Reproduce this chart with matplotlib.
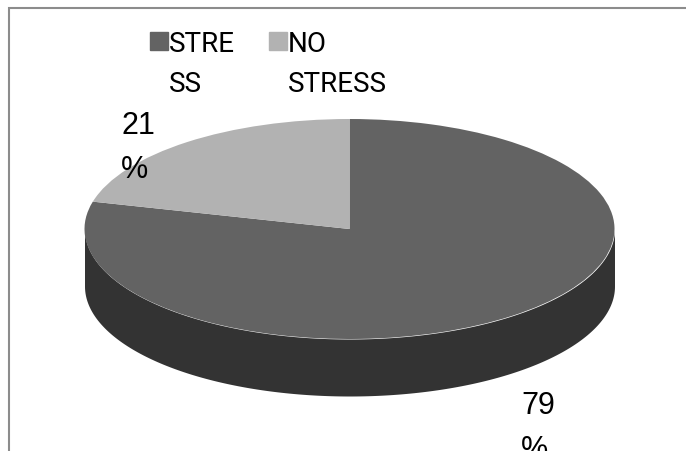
import numpy as np
import matplotlib.pyplot as plt
from matplotlib.patches import Rectangle

# data
categories = ["STRESS", "NO STRESS"]
legend_labels = ["STRE\nSS", "NO\nSTRESS"]
shares = [79, 21]
pct_labels = ["79\n%", "21\n%"]
top_colors = ["#636363", "#b2b2b2"]
side_color = "#333333"

W, H = 686, 452
cx, cy = 349.5, 230      # pie centre in pixels (from top)
rx, ry = 265, 110        # ellipse semi axes in pixels
depth = 57               # thickness of the 3d side in pixels

fig = plt.figure(figsize=(W / 100, H / 100), dpi=100)
ax = fig.add_axes([0, 0, 1, 1])

# radius 1 pie turns into the flattened ellipse through the limits
yb = H - cy
ax.pie(shares, colors=top_colors, startangle=90, counterclock=False,
       radius=1, wedgeprops=dict(linewidth=0, zorder=3))
ax.set_aspect("auto")
ax.set_xlim(-cx / rx, (W - cx) / rx)
ax.set_ylim(-yb / ry, (H - yb) / ry)
ax.axis("off")

# front wall of the cylinder
t = np.linspace(np.pi, 2 * np.pi, 200)
d = depth / ry
ax.fill_between(np.cos(t), np.sin(t), np.sin(t) - d, color=side_color,
                linewidth=0, zorder=2)


def px(x, y):
    return x / W, 1 - y / H


# percentage labels (left/top of first line in pixels)
label_pos = [(521, 391), (121, 111)]
for txt, (x, y) in zip(pct_labels, label_pos):
    fig.text(*px(x, y), txt, ha="left", va="top", fontsize=22,
             family=["Liberation Sans", "DejaVu Sans"], linespacing=1.6,
             color="black")

# legend
leg_x = [150, 269]
for lab, col, x in zip(legend_labels, top_colors, leg_x):
    fig.patches.append(Rectangle(px(x, 51), 18 / W, 18 / H, color=col,
                                 transform=fig.transFigure))
    fig.text(*px(x + 19, 31), lab, ha="left", va="top", fontsize=20,
             family=["Roboto", "DejaVu Sans"], linespacing=1.62,
             color="black")

# chart area frame (cropped on the right and bottom)
fig.patches.append(Rectangle(px(8.5, H + 20), 1.2, (H + 20 - 8.5) / H,
                             fill=False, edgecolor="#8c8c8c", linewidth=1.5,
                             transform=fig.transFigure))

fig.savefig("out.png", dpi=100)
